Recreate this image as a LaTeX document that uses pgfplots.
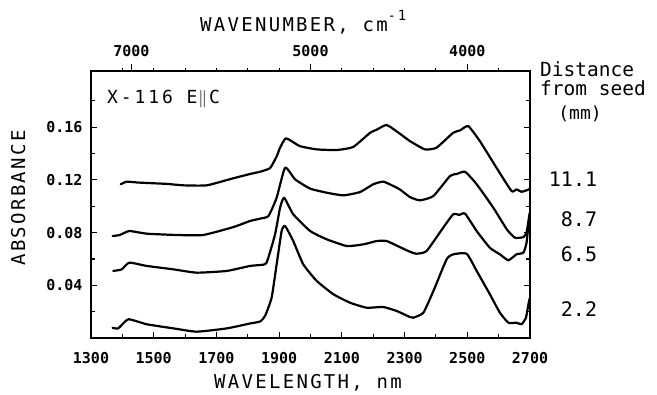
\documentclass[border=0pt]{standalone}
\usepackage{pgfplots}
\pgfplotsset{compat=1.18}
\usepackage{fontspec}
\setmainfont{DejaVu Sans Mono}
\newfontfamily\lbl[LetterSpace=12]{DejaVu Sans Mono}
\newfontfamily\wide[LetterSpace=16]{DejaVu Sans Mono}
\begin{document}
\begin{tikzpicture}[x=1pt,y=1pt]
\useasboundingbox (0,0) rectangle (657,395);
\begin{axis}[
  at={(91pt,57pt)}, anchor=south west,
  width=439pt, height=267pt, scale only axis,
  xmin=1300, xmax=2700, ymin=0, ymax=0.2027,
  axis line style={line width=1.4pt},
  xtick={1300,1500,1700,1900,2100,2300,2500,2700},
  xticklabels={1300,1500,1700,1900,2100,2300,2500,2700},
  minor xtick={1400,1600,1800,2000,2200,2400,2600},
  ytick={0.04,0.08,0.12,0.16},
  yticklabels={0.04,0.08,0.12,0.16},
  minor ytick={0.02,0.06,0.10,0.14,0.18},
  xtick pos=left, ytick pos=both,
  tick align=inside,
  major tick length=6pt, minor tick length=4pt,
  tick style={line width=1.1pt, black},
  ticklabel style={font=\bfseries\fontsize{15}{15}\selectfont},
  xticklabel style={yshift=-11pt},
  yticklabel style={xshift=-5pt},
  spec/.style={black, line width=2.2pt, line join=round, line cap=round, no marks, smooth, tension=0.3},
]
% 11.1 mm
\addplot[spec] coordinates {(1395,0.1167) (1414,0.1187) (1450,0.1180) (1541,0.1170) (1594,0.1159) (1669,0.1159) (1753,0.1212) (1807,0.1245) (1839,0.1262) (1871,0.1290) (1892,0.1378) (1903,0.1445) (1922,0.1516) (1966,0.1457) (2020,0.1432) (2083,0.1427) (2136,0.1450) (2190,0.1558) (2210,0.1580) (2243,0.1617) (2285,0.1551) (2317,0.1495) (2365,0.1432) (2402,0.1445) (2455,0.1558) (2477,0.1576) (2503,0.1609) (2540,0.1495) (2593,0.1293) (2641,0.1116) (2657,0.1128) (2673,0.1110) (2689,0.1121) (2698,0.1130)};
% 8.7 mm
\addplot[spec] coordinates {(1369,0.0774) (1392,0.0782) (1422,0.0812) (1478,0.0792) (1573,0.0782) (1658,0.0782) (1754,0.0842) (1807,0.0888) (1839,0.0906) (1866,0.0926) (1892,0.1065) (1919,0.1293) (1951,0.1204) (1999,0.1134) (2052,0.1103) (2105,0.1083) (2158,0.1108) (2200,0.1167) (2232,0.1187) (2264,0.1154) (2285,0.1128) (2317,0.1070) (2349,0.1045) (2392,0.1078) (2445,0.1230) (2466,0.1245) (2493,0.1262) (2530,0.1167) (2583,0.0989) (2626,0.0825) (2652,0.0761) (2679,0.0766) (2689,0.0800) (2695,0.0888) (2699,0.0950)};
% 6.5 mm
\addplot[spec] coordinates {(1371,0.0509) (1398,0.0521) (1422,0.0572) (1478,0.0547) (1563,0.0521) (1637,0.0496) (1733,0.0509) (1807,0.0547) (1839,0.0554) (1860,0.0572) (1887,0.0787) (1903,0.0989) (1916,0.1065) (1945,0.0939) (1999,0.0812) (2052,0.0749) (2116,0.0698) (2169,0.0711) (2211,0.0736) (2243,0.0736) (2285,0.0690) (2317,0.0655) (2338,0.0640) (2370,0.0660) (2423,0.0837) (2455,0.0939) (2475,0.0935) (2493,0.0944) (2530,0.0812) (2572,0.0685) (2604,0.0635) (2631,0.0590) (2657,0.0635) (2679,0.0648) (2689,0.0723) (2695,0.0863) (2699,0.0900)};
% 2.2 mm
\addplot[spec] coordinates {(1369,0.0078) (1387,0.0073) (1419,0.0142) (1478,0.0104) (1563,0.0073) (1637,0.0048) (1733,0.0073) (1807,0.0110) (1839,0.0125) (1855,0.0167) (1876,0.0306) (1892,0.0559) (1908,0.0812) (1919,0.0850) (1945,0.0736) (1977,0.0559) (2020,0.0433) (2073,0.0332) (2126,0.0268) (2179,0.0230) (2232,0.0235) (2275,0.0205) (2317,0.0159) (2328,0.0154) (2360,0.0192) (2392,0.0357) (2434,0.0597) (2455,0.0635) (2498,0.0640) (2530,0.0509) (2572,0.0332) (2604,0.0192) (2631,0.0116) (2657,0.0116) (2673,0.0104) (2687,0.0154) (2695,0.0256) (2699,0.0300)};
\end{axis}
\begin{axis}[
  at={(91pt,57pt)}, anchor=south west,
  width=439pt, height=267pt, scale only axis,
  xmin=1300, xmax=2700, ymin=0, ymax=0.2027,
  axis x line*=top, axis y line=none,
  axis line style={line width=1.4pt},
  xtick={1428.57,2000,2500},
  xticklabels={7000,5000,4000},
  minor xtick={1400,1500,1600,1700,1800,1900,2100,2200,2300,2400,2600},
  tick align=outside,
  major tick length=7pt, minor tick length=3pt,
  tick style={line width=1.1pt, black},
  ticklabel style={font=\bfseries\fontsize{15}{15}\selectfont},
  xticklabel style={yshift=4pt},
]
\addplot[draw=none] coordinates {(1300,0) (2700,0.2)};
\end{axis}
\node[anchor=base west, inner sep=0pt, font=\lbl\fontsize{19}{20}\selectfont] at (200,363) {WAVENUMBER, cm\raisebox{11pt}{\fontsize{14}{14}\selectfont -1}};
\node[anchor=base, inner sep=0pt, font=\lbl\fontsize{19}{20}\selectfont] at (308,6) {WAVELENGTH, nm};
\node[anchor=base, rotate=90, inner sep=0pt, font=\lbl\fontsize{19}{20}\selectfont] at (25,197) {ABSORBANCE};
\node[anchor=base west, inner sep=0pt, font=\wide\fontsize{18}{18}\selectfont] at (107,291) {X-116 E\hspace{1pt}{\fontsize{17}{17}\selectfont$\parallel$}\hspace{2pt}C};
\node[anchor=base west, inner sep=0pt, font=\fontsize{19.5}{19.5}\selectfont] at (540,318) {Distance};
\node[anchor=base west, inner sep=0pt, font=\fontsize{19.5}{19.5}\selectfont] at (540,299) {from seed};
\node[anchor=base, inner sep=0pt, font=\fontsize{18}{18}\selectfont] at (580,275) {(mm)};
\node[anchor=base, inner sep=0pt, font=\fontsize{20}{20}\selectfont] at (573,208) {11.1};
\node[anchor=base, inner sep=0pt, font=\fontsize{20}{20}\selectfont] at (579,168) {8.7};
\node[anchor=base, inner sep=0pt, font=\fontsize{20}{20}\selectfont] at (579,133) {6.5};
\node[anchor=base, inner sep=0pt, font=\fontsize{20}{20}\selectfont] at (579,78) {2.2};
\end{tikzpicture}
\end{document}
